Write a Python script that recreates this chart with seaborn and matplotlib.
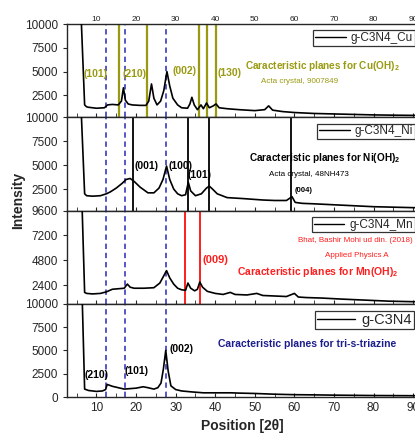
import matplotlib
matplotlib.use("Agg")
import matplotlib.pyplot as plt
from matplotlib.ticker import MultipleLocator
import seaborn as sns

# XRD patterns
cu_x = [6.0, 7.0, 7.5, 8, 10, 12, 12.8, 14, 15.5, 16.3, 16.8, 17.3, 18, 19, 21, 22.5, 23.2, 23.9,
        24.5, 25.3, 26.2, 27, 27.8, 28.5, 29.3, 30.5, 31.5, 33, 33.6, 34.1, 34.7, 35.5, 36.4, 37,
        37.8, 38.5, 39.5, 40.2, 41, 43, 46, 50, 52.5, 53.5, 54.5, 57, 60, 65, 70, 75, 80, 85, 90, 91]
cu_y = [12000, 1500, 1300, 1250, 1150, 1200, 1500, 1550, 1500, 1900, 3300, 2000, 1600, 1500, 1450,
        1450, 1900, 3700, 2200, 1500, 1900, 3000, 5000, 3500, 2200, 1500, 1200, 1150, 1600, 2300,
        1500, 1000, 1500, 1100, 1700, 1200, 1400, 1600, 1200, 1100, 1000, 900, 1000, 1400, 950,
        800, 700, 600, 550, 500, 450, 420, 400, 400]

ni_x = [6.0, 7.0, 7.5, 9, 11, 12.5, 13.5, 15, 16.5, 17.5, 18.5, 19.5, 21, 23, 24.5, 25.8, 26.8,
        27.7, 28.5, 29.5, 30.5, 31.5, 32.5, 33.2, 33.8, 35, 36.5, 37.8, 38.5, 39.3, 40.5, 43, 47,
        52, 55, 58, 59.4, 60.2, 62, 65, 70, 75, 80, 85, 90, 91]
ni_y = [12000, 2000, 1800, 1750, 1800, 2000, 2200, 2600, 3100, 3500, 3600, 3300, 2700, 2100, 2100,
        2600, 3500, 4900, 3500, 2500, 2000, 1800, 1900, 3200, 2300, 1800, 2000, 2600, 2800, 2500,
        2000, 1600, 1500, 1350, 1300, 1300, 1700, 1100, 1000, 950, 850, 750, 650, 600, 550, 550]

mn_x = [6.2, 7.0, 7.5, 9, 11, 12.5, 14, 15.5, 17, 17.8, 18.5, 19.5, 22, 24.5, 26, 27, 27.7, 28.5,
        29.5, 30.5, 31.5, 32.5, 33.1, 33.8, 34.8, 35.5, 36.1, 36.8, 38, 40, 42, 43.8, 45, 48, 50.5,
        52, 55, 58, 60, 61, 63, 67, 72, 78, 84, 90, 91]
mn_y = [12000, 1700, 1600, 1550, 1600, 1750, 2000, 2050, 2100, 2500, 2200, 2100, 2100, 2150, 2600,
        3300, 3800, 3100, 2500, 2100, 1950, 1900, 2600, 2100, 1850, 2000, 2700, 2200, 1800, 1600,
        1500, 1700, 1500, 1450, 1600, 1400, 1350, 1300, 1600, 1250, 1200, 1150, 1050, 950, 850,
        800, 800]

cn_x = [6.3, 7.0, 8, 10, 11.5, 12.3, 12.7, 14, 15.5, 17, 18.5, 20, 21.8, 23, 24.5, 25.5, 26.3,
        26.9, 27.5, 28.1, 28.8, 30, 31.5, 34, 37, 40, 44, 46, 50, 55, 60, 65, 70, 75, 80, 85, 90, 91]
cn_y = [12000, 850, 700, 600, 650, 800, 1350, 1150, 1000, 850, 900, 950, 1100, 1000, 850, 1000,
        1500, 3000, 5000, 2800, 1200, 800, 650, 550, 450, 450, 450, 420, 380, 300, 250, 230, 200,
        180, 160, 150, 140, 140]

# reference plane positions
triazine_lines = [12.5, 17.1, 27.5]
cu_lines = [15.8, 22.7, 35.8, 37.8, 40.1]
ni_lines = [19.1, 33.0, 38.4, 59.1]
mn_lines = [32.3, 36.1]

olive = "#9a9a12"
red = "#ff1e1e"
navy = "#1c1c8c"
dash_blue = "#2a2ab8"

sns.set_style("ticks")
plt.rcParams["font.family"] = ["Liberation Sans", "DejaVu Sans"]
plt.rcParams["mathtext.fontset"] = "custom"
plt.rcParams["mathtext.rm"] = "Liberation Sans"
plt.rcParams["mathtext.bf"] = "Liberation Sans:bold"

fig, axes = plt.subplots(4, 1, figsize=(4.15, 4.37), dpi=100, sharex=True)
fig.subplots_adjust(left=0.161, right=1.005, top=0.945, bottom=0.0915, hspace=0)

curves = [(cu_x, cu_y, "g-C3N4_Cu"), (ni_x, ni_y, "g-C3N4_Ni"),
          (mn_x, mn_y, "g-C3N4_Mn"), (cn_x, cn_y, "g-C3N4")]
ylims = [(200, 10000), (250, 10000), (600, 9600), (0, 10000)]
yticks = [[2500, 5000, 7500, 10000], [2500, 5000, 7500, 10000],
          [2400, 4800, 7200, 9600], [0, 2500, 5000, 7500, 10000]]

for i, (ax, (x, y, name)) in enumerate(zip(axes, curves)):
    for xv in triazine_lines:
        ax.axvline(xv, color=dash_blue, lw=1.1, ls=(0, (3.5, 2.5)), zorder=1)
    sns.lineplot(x=x, y=y, ax=ax, color="black", lw=1.2, sort=False, label=name, zorder=3)
    ax.set_xlim(2.5, 91)
    ax.set_ylim(*ylims[i])
    ax.set_yticks(yticks[i])
    ax.xaxis.set_major_locator(MultipleLocator(10))
    ax.xaxis.set_minor_locator(MultipleLocator(5))
    ax.tick_params(axis="y", direction="out", labelsize=8.5, length=3, right=True)
    ax.tick_params(axis="x", which="both", direction="in", length=3, top=False,
                   labelbottom=(i == 3), labelsize=8.5)
    for s in ax.spines.values():
        s.set_linewidth(1.0)
    fs = 10.5 if i == 3 else 8.5
    leg = ax.legend(loc="upper right", bbox_to_anchor=(1.003, 0.97), frameon=True, fancybox=False,
                    edgecolor="black", fontsize=fs, borderpad=0.15, handlelength=2.6,
                    handletextpad=0.4, borderaxespad=0.3)
    leg.get_frame().set_linewidth(0.9)
    leg.get_lines()[0].set_linewidth(1.0)

# top panel: Cu(OH)2
ax = axes[0]
for xv in cu_lines:
    ax.axvline(xv, color=olive, lw=1.6, zorder=2)
ax.tick_params(axis="x", which="both", labeltop=True, labelsize=6, pad=1)
for lab, xv, yv in [("(101)", 9.8, 4800), ("(210)", 19.6, 4700), ("(002)", 32.3, 5100), ("(130)", 43.6, 4900)]:
    ax.text(xv, yv, lab, color=olive, fontsize=7.5, fontweight="bold", ha="center", va="center")
ax.text(47.5, 5600, r"Caracteristic planes for Cu(OH)$_\mathbf{2}$", color=olive, fontsize=7.2,
        fontweight="bold", va="center")
ax.text(51.5, 4000, "Acta crystal, 9007849", color=olive, fontsize=5.8, va="center")

# Ni(OH)2
ax = axes[1]
for xv in ni_lines:
    ax.axvline(xv, color="black", lw=1.3, zorder=2)
for lab, xv, yv, f in [("(001)", 22.7, 4900, 7.5), ("(100)", 31.2, 4900, 7.5),
                       ("(101)", 36.0, 4000, 7.5), ("(004)", 62.4, 2300, 5.5)]:
    ax.text(xv, yv, lab, color="black", fontsize=f, fontweight="bold", ha="center", va="center")
ax.text(48.5, 5700, r"Caracteristic planes for Ni(OH)$_\mathbf{2}$", color="black", fontsize=7.2,
        fontweight="bold", va="center")
ax.text(53.5, 4000, "Acta crystal, 48NH473", color="black", fontsize=5.8, va="center")

# Mn(OH)2
ax = axes[2]
for xv in mn_lines:
    ax.axvline(xv, color=red, lw=1.4, zorder=2)
ax.text(40.1, 4800, "(009)", color=red, fontsize=8, fontweight="bold", ha="center", va="center")
ax.text(45.5, 3700, r"Caracteristic planes for Mn(OH)$_\mathbf{2}$", color=red, fontsize=7.5,
        fontweight="bold", va="center")
ax.text(90, 6700, "Bhat, Bashir Mohi ud din. (2018)", color=red, fontsize=5.8, ha="right", va="center")
ax.text(75.8, 5300, "Applied Physics A", color=red, fontsize=5.8, ha="center", va="center")

# g-C3N4
ax = axes[3]
for lab, xv, yv in [("(210)", 10.0, 2400), ("(101)", 20.1, 2800), ("(002)", 31.5, 5100)]:
    ax.text(xv, yv, lab, color="black", fontsize=7.5, fontweight="bold", ha="center", va="center")
ax.text(40.8, 5650, "Caracteristic planes for tri-s-triazine", color=navy, fontsize=7.5,
        fontweight="bold", va="center")
ax.set_xlabel("Position [2θ]", fontsize=10, fontweight="bold", labelpad=4)

fig.text(0.043, 0.542, "Intensity", rotation=90, fontsize=10, fontweight="bold",
         ha="center", va="center")

fig.savefig("out.png", dpi=100)
